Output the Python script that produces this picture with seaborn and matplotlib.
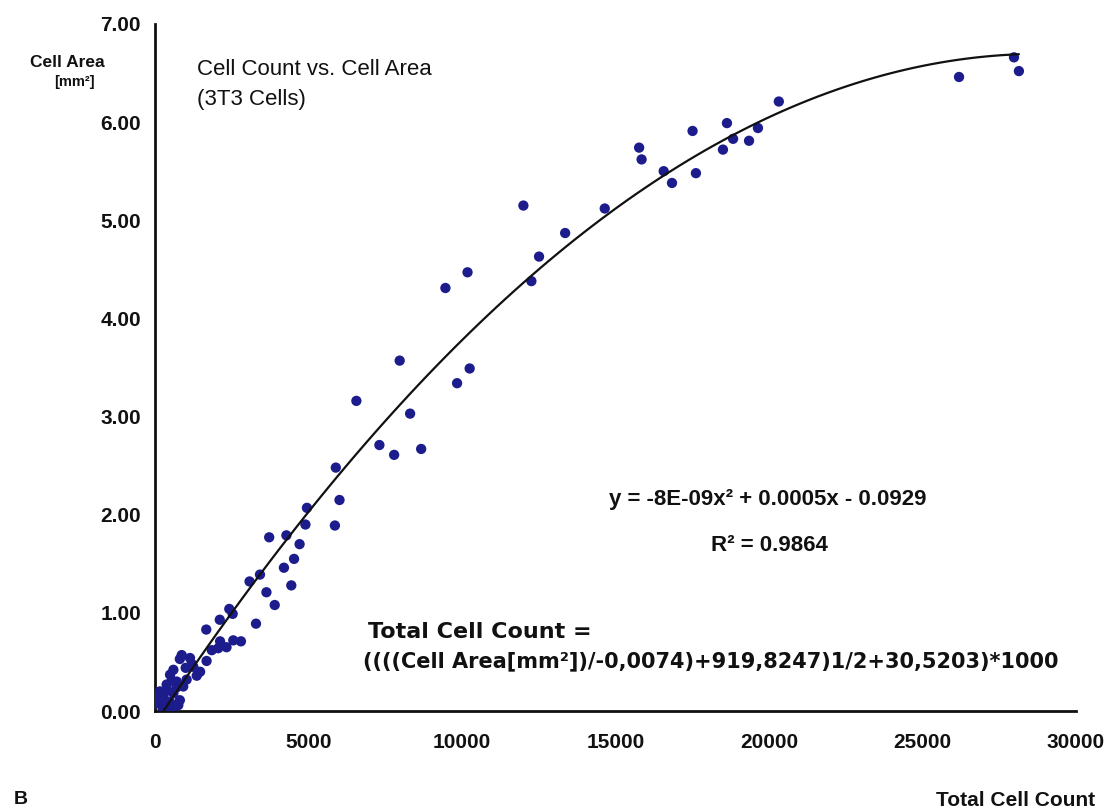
import numpy as np
import pandas as pd
import matplotlib
matplotlib.use("Agg")
import matplotlib.pyplot as plt
import seaborn as sns
from matplotlib.ticker import FormatStrFormatter

sns.set_style("white")
plt.rcParams['font.family'] = ['Liberation Sans', 'DejaVu Sans']
plt.rcParams['text.color'] = '#111111'
plt.rcParams['xtick.color'] = '#111111'
plt.rcParams['ytick.color'] = '#111111'

# values (total cell count, cell area in mm2)
cell_count = [27980, 28140, 26190, 20320, 19640, 19350, 18830, 18630, 18500, 17620,
              17510, 16840, 16570, 15850, 15770, 14650, 12000, 13360, 12510, 12260,
              10180, 9460, 7970, 10250, 9840, 6560, 8310, 7310, 7790, 8670,
              5890, 6010, 5860, 4950, 4900, 4710, 4530, 4280, 3720, 4200,
              4440, 3420, 3080, 3630, 3900, 2420, 2530, 2110, 3290, 1670,
              2120, 2060, 2330, 2550, 2800, 1850, 1680, 870, 810, 1140,
              1470, 1360, 1250, 600, 490, 710, 1030, 920, 380, 160,
              270, 50, 600, 810, 760, 490, 50, 330, 600, 200,
              400, 550, 700, 300, 450, 250, 1000, 1200]
cell_area = [6.66, 6.52, 6.46, 6.21, 5.94, 5.81, 5.83, 5.99, 5.72, 5.48,
             5.91, 5.38, 5.50, 5.62, 5.74, 5.12, 5.15, 4.87, 4.63, 4.38,
             4.47, 4.31, 3.57, 3.49, 3.34, 3.16, 3.03, 2.71, 2.61, 2.67,
             2.48, 2.15, 1.89, 2.07, 1.90, 1.70, 1.55, 1.79, 1.77, 1.46,
             1.28, 1.39, 1.32, 1.21, 1.08, 1.04, 0.99, 0.93, 0.89, 0.83,
             0.71, 0.64, 0.65, 0.72, 0.71, 0.62, 0.51, 0.57, 0.53, 0.54,
             0.40, 0.36, 0.45, 0.42, 0.37, 0.30, 0.32, 0.25, 0.27, 0.20,
             0.16, 0.15, 0.18, 0.11, 0.06, 0.09, 0.08, 0.04, 0.04, 0.10,
             0.21, 0.31, 0.24, 0.12, 0.05, 0.02, 0.44, 0.48]

x_ticks = [0, 5000, 10000, 15000, 20000, 25000, 30000]
y_ticks = [0, 1, 2, 3, 4, 5, 6, 7]

df = pd.DataFrame({"count": cell_count, "area": cell_area})

fig = plt.figure(figsize=(11.11, 8.10), dpi=100)
ax = fig.add_axes([0.1395, 0.1222, 0.829, 0.8482])

# scatter + 2nd order polynomial trend line
sns.regplot(data=df, x="count", y="area", order=2, ci=None, ax=ax,
            scatter_kws=dict(s=55, color="#1c1c8c", edgecolor="none", alpha=1, zorder=3),
            line_kws=dict(color="#111111", lw=1.6, zorder=4))

ax.set_xlim(0, 30000)
ax.set_ylim(0, 7)
ax.set_xticks(x_ticks)
ax.set_yticks(y_ticks)
ax.yaxis.set_major_formatter(FormatStrFormatter('%.2f'))
ax.set_xlabel("")
ax.set_ylabel("")
sns.despine(ax=ax)
for side in ["left", "bottom"]:
    ax.spines[side].set_color("#111111")
    ax.spines[side].set_linewidth(2)
ax.tick_params(axis="both", direction="out", length=6, width=2, color="#111111",
               labelsize=15, pad=4)
for lab in ax.get_xticklabels() + ax.get_yticklabels():
    lab.set_fontweight("bold")
ax.tick_params(axis="x", pad=10)

# axis captions
fig.text(0.061, 0.923, "Cell Area", ha="center", va="center", fontsize=12.5, fontweight="bold")
fig.text(0.067, 0.899, "[mm²]", ha="center", va="center", fontsize=10.5, fontweight="bold")
fig.text(0.9145, 0.0123, "Total Cell Count", ha="center", va="center", fontsize=15, fontweight="bold")
fig.text(0.012, 0.002, "B", ha="left", va="bottom", fontsize=14, fontweight="bold")

# title inside the plot
fig.text(0.177, 0.914, "Cell Count vs. Cell Area", ha="left", va="center", fontsize=16)
fig.text(0.177, 0.877, "(3T3 Cells)", ha="left", va="center", fontsize=16)

# trend line equation
fig.text(0.691, 0.383, "y = -8E-09x² + 0.0005x - 0.0929", ha="center", va="center",
         fontsize=16, fontweight="bold")
fig.text(0.693, 0.327, "R² = 0.9864", ha="center", va="center", fontsize=16, fontweight="bold")

# inverse formula
fig.text(0.331, 0.220, "Total Cell Count =", ha="left", va="center", fontsize=16,
         fontweight="bold", family="DejaVu Sans")
fig.text(0.327, 0.183, "((((Cell Area[mm²])/-0,0074)+919,8247)1/2+30,5203)*1000",
         ha="left", va="center", fontsize=15, fontweight="bold", family="DejaVu Sans")

fig.savefig("out.png", dpi=100)
